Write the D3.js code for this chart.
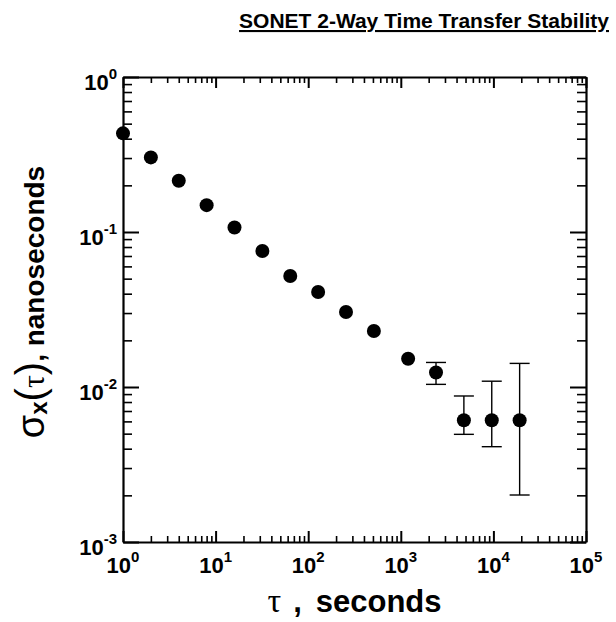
<!DOCTYPE html>
<html>
<head>
<meta charset="utf-8">
<script src="https://cdn.jsdelivr.net/npm/d3@7/dist/d3.min.js"></script>
<style>
    html, body { margin: 0; padding: 0; background: #fff; }
    svg { display: block; font-family: "Liberation Sans", Arial, sans-serif; }
</style>
</head>
<body>
<div id="chart"></div>
<script>
"use strict";

// Averaging times (s) and time deviation (ns)
const TAU = [1, 2, 4, 8, 16, 32, 64, 128, 256, 512, 1200, 2400, 4800, 9600, 19200];
const SIGMA = [0.433, 0.303, 0.214, 0.149, 0.107, 0.0754, 0.052, 0.041, 0.0305, 0.023,
    0.0152, 0.0124, 0.0061, 0.0061, 0.0061];

// Error bars on the last points
const ERR_TAU = [2400, 4800, 9600, 19200];
const ERR_HIGH = [0.0144, 0.00875, 0.0109, 0.0142];
const ERR_LOW = [0.0104, 0.00495, 0.00412, 0.00201];

const X_DECADES = [0, 1, 2, 3, 4, 5];
const Y_DECADES = [0, -1, -2, -3];

const TITLE = "SONET 2-Way Time Transfer Stability";

const WIDTH = 616;
const HEIGHT = 622;
const FRAME = { left: 123, right: 586, top: 77, bottom: 542 };

const x = d3.scaleLog().domain([1, 1e5]).range([FRAME.left, FRAME.right]);
const y = d3.scaleLog().domain([1e-3, 1]).range([FRAME.bottom, FRAME.top]);

const svg = d3.select("#chart")
    .append("svg")
    .attr("width", WIDTH)
    .attr("height", HEIGHT);

renderTitle(svg);
renderAxes(svg);
renderTickLabels(svg);
renderAxisTitles(svg);
renderErrorBars(svg);
renderPoints(svg);

function minorTicks(lo, hi) {
    const ticks = [];
    for (let e = lo; e < hi; e++) {
        for (let m = 2; m <= 9; m++) ticks.push(m * Math.pow(10, e));
    }
    return ticks;
}

function renderTitle(container) {
    container.append("text")
        .attr("x", 609)
        .attr("y", 28)
        .attr("text-anchor", "end")
        .attr("font-size", 21)
        .attr("font-weight", "bold")
        .attr("text-decoration", "underline")
        .text(TITLE);
}

function renderAxes(container) {
    const xMajor = X_DECADES.map(e => Math.pow(10, e));
    const yMajor = Y_DECADES.map(e => Math.pow(10, e));
    const xMinor = minorTicks(0, 5);
    const yMinor = minorTicks(-3, 0);

    const axes = [
        { axis: d3.axisBottom(x), at: `translate(0,${FRAME.bottom})`, major: xMajor, minor: xMinor, big: 11, small: 6 },
        { axis: d3.axisTop(x), at: `translate(0,${FRAME.top})`, major: xMajor, minor: xMinor, big: 11, small: 6 },
        { axis: d3.axisLeft(y), at: `translate(${FRAME.left},0)`, major: yMajor, minor: yMinor, big: 16, small: 9 },
        { axis: d3.axisRight(y), at: `translate(${FRAME.right},0)`, major: yMajor, minor: yMinor, big: 16, small: 9 }
    ];

    axes.forEach(a => {
        // Minor ticks, pointing into the plot
        container.append("g")
            .attr("transform", a.at)
            .call(a.axis.tickValues(a.minor).tickFormat("").tickSizeInner(-a.small).tickSizeOuter(0))
            .call(g => g.select(".domain").remove())
            .selectAll("line").attr("stroke", "#000").attr("stroke-width", 1.6);

        // Major ticks and the frame line
        container.append("g")
            .attr("transform", a.at)
            .call(a.axis.tickValues(a.major).tickFormat("").tickSizeInner(-a.big).tickSizeOuter(0))
            .call(g => g.select(".domain").attr("stroke", "#000").attr("stroke-width", 2.2))
            .selectAll("line").attr("stroke", "#000").attr("stroke-width", 2);
    });
}

function renderTickLabels(container) {
    const xLabels = container.append("g")
        .selectAll("text")
        .data(X_DECADES)
        .join("text")
        .attr("x", e => x(Math.pow(10, e)))
        .attr("y", 573)
        .attr("text-anchor", "middle")
        .attr("font-weight", "bold")
        .attr("font-size", 22);
    writePower(xLabels);

    const yLabels = container.append("g")
        .selectAll("text")
        .data(Y_DECADES)
        .join("text")
        .attr("x", 117)
        .attr("y", e => y(Math.pow(10, e)) + 13)
        .attr("text-anchor", "end")
        .attr("font-weight", "bold")
        .attr("font-size", 22);
    writePower(yLabels);
}

function writePower(labels) {
    labels.append("tspan").text("10");
    labels.append("tspan")
        .attr("font-size", 15)
        .attr("dy", -11)
        .text(e => String(e).replace("\u2212", "-"));
}

function renderAxisTitles(container) {
    // x axis: "τ , seconds"
    const xt = container.append("text")
        .attr("x", (FRAME.left + FRAME.right) / 2)
        .attr("y", 612)
        .attr("text-anchor", "middle")
        .attr("font-size", 31)
        .attr("font-weight", "bold");
    xt.append("tspan")
        .attr("font-family", "'Liberation Serif', 'DejaVu Serif', serif")
        .attr("font-weight", "normal")
        .attr("font-size", 34)
        .text("\u03c4");
    xt.append("tspan").attr("dx", 12).text(",");
    xt.append("tspan").attr("dx", 14).text("seconds");

    // y axis: "σx(τ), nanoseconds", rotated
    const yt = container.append("text")
        .attr("transform", "translate(44,302) rotate(-90)")
        .attr("text-anchor", "middle")
        .attr("font-size", 28)
        .attr("font-weight", "bold");
    yt.append("tspan")
        .attr("font-weight", "normal")
        .attr("font-size", 38)
        .text("\u03c3");
    yt.append("tspan")
        .attr("font-size", 24)
        .attr("dy", 3)
        .text("x");
    yt.append("tspan")
        .attr("dy", -3)
        .attr("font-weight", "normal")
        .attr("font-size", 40)
        .text("(");
    yt.append("tspan")
        .attr("font-family", "'Liberation Serif', 'DejaVu Serif', serif")
        .attr("font-weight", "normal")
        .attr("font-size", 32)
        .text("\u03c4");
    yt.append("tspan")
        .attr("font-weight", "normal")
        .attr("font-size", 40)
        .text(")");
    yt.append("tspan").text(",  nanoseconds");
}

function renderErrorBars(container) {
    const bars = container.append("g")
        .attr("stroke", "#000")
        .attr("stroke-width", 1.4)
        .selectAll("g")
        .data(ERR_TAU.map((t, i) => ({ t, lo: ERR_LOW[i], hi: ERR_HIGH[i] })))
        .join("g");

    const cap = 10;
    bars.append("line")
        .attr("x1", d => x(d.t)).attr("x2", d => x(d.t))
        .attr("y1", d => y(d.hi)).attr("y2", d => y(d.lo));
    bars.append("line")
        .attr("x1", d => x(d.t) - cap).attr("x2", d => x(d.t) + cap)
        .attr("y1", d => y(d.hi)).attr("y2", d => y(d.hi));
    bars.append("line")
        .attr("x1", d => x(d.t) - cap).attr("x2", d => x(d.t) + cap)
        .attr("y1", d => y(d.lo)).attr("y2", d => y(d.lo));
}

function renderPoints(container) {
    container.append("g")
        .selectAll("circle")
        .data(TAU.map((t, i) => ({ t, s: SIGMA[i] })))
        .join("circle")
        .attr("cx", d => x(d.t))
        .attr("cy", d => y(d.s))
        .attr("r", 7)
        .attr("fill", "#000");
}
</script>
</body>
</html>
